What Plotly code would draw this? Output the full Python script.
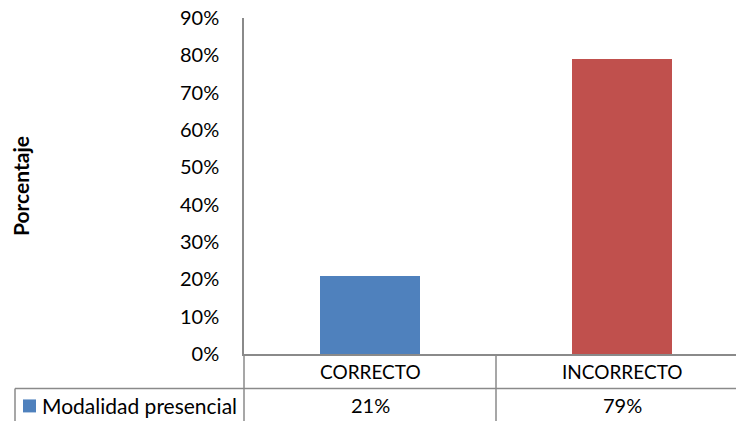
import plotly.graph_objects as go

categories = ["CORRECTO", "INCORRECTO"]
values = [0.21, 0.79]
series_name = "Modalidad presencial"
y_title = "Porcentaje"
bar_colors = ["#4F81BD", "#C0504D"]

W, H = 736, 421
L, T, B = 244, 18, 66.5
plot_h = H - T - B
plot_w = W - L
cat_px = 252.0

def py(p):  # pixel y -> paper y
    return (H - B - p) / plot_h

def px(p):  # pixel x -> paper x
    return (p - L) / plot_w

FONT = "Lato"
line_col = "#8a8a8a"

fig = go.Figure()
fig.add_trace(go.Bar(
    x=list(range(len(categories))), y=values, width=0.4,
    marker=dict(color=bar_colors, line=dict(width=0)),
    name=series_name, showlegend=False,
))

fig.update_layout(
    width=W, height=H,
    margin=dict(l=L, r=0, t=T, b=B),
    paper_bgcolor="white", plot_bgcolor="white",
    font=dict(family=FONT, size=19, color="#000000"),
    bargap=0,
    xaxis=dict(range=[-0.5, -0.5 + plot_w / cat_px], showticklabels=False,
               showgrid=False, zeroline=False, showline=True,
               linecolor=line_col, linewidth=1.5, ticks=""),
    yaxis=dict(range=[0, 0.9], dtick=0.1, tickformat=".0%", showgrid=False,
               zeroline=False, showline=True, linecolor=line_col, linewidth=1.5,
               ticks="", ticklen=0, ticklabelstandoff=19,
               tickfont=dict(size=20, family=FONT)),
)

shapes = []
# vertical lines of the data table
shapes.append(dict(type="line", xref="paper", yref="paper", x0=0, x1=0,
                   y0=py(354.5), y1=py(H + 5), line=dict(color=line_col, width=1.5)))
for i in range(len(categories) - 1):
    xb = px(L + cat_px * (i + 1))
    shapes.append(dict(type="line", xref="paper", yref="paper", x0=xb, x1=xb,
                       y0=py(354.5), y1=py(H + 5), line=dict(color=line_col, width=1.5)))
shapes.append(dict(type="line", xref="paper", yref="paper", x0=px(15), x1=px(15),
                   y0=py(389), y1=py(H + 5), line=dict(color=line_col, width=1.5)))
# horizontal row line
shapes.append(dict(type="line", xref="paper", yref="paper", x0=px(15), x1=1.0,
                   y0=py(389), y1=py(389), line=dict(color=line_col, width=1.5)))
# legend key
shapes.append(dict(type="rect", xref="paper", yref="paper", x0=px(23), x1=px(36),
                   y0=py(413), y1=py(400), fillcolor=bar_colors[0], line=dict(width=0)))
fig.update_layout(shapes=shapes)

ann = []
for i, c in enumerate(categories):
    ann.append(dict(x=i, xref="x", y=py(372), yref="paper", text=c, showarrow=False,
                    xanchor="center", yanchor="middle", font=dict(size=19, family=FONT)))
    ann.append(dict(x=i, xref="x", y=py(406), yref="paper", text=f"{round(values[i]*100)}%",
                    showarrow=False, xanchor="center", yanchor="middle",
                    font=dict(size=20, family=FONT)))
ann.append(dict(x=px(40), xref="paper", y=py(406), yref="paper", text=series_name,
                showarrow=False, xanchor="left", yanchor="middle",
                font=dict(size=21, family=FONT)))
ann.append(dict(x=px(20), xref="paper", y=0.5, yref="paper", text=f"<b>{y_title}</b>",
                textangle=-90, showarrow=False, xanchor="center", yanchor="middle",
                font=dict(size=21, family=FONT)))
fig.update_layout(annotations=ann)

fig.write_html("out.html")
